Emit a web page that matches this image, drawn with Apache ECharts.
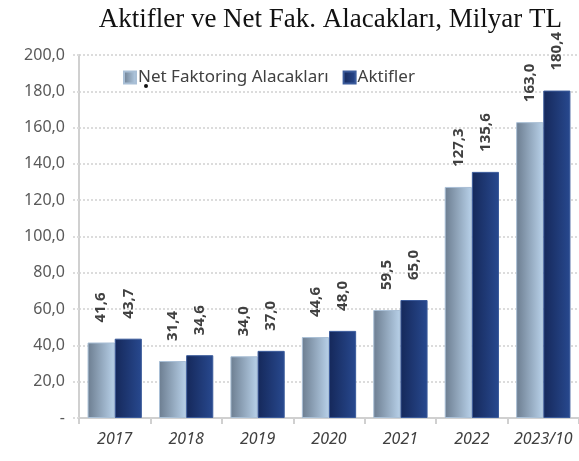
<!DOCTYPE html>
<html>
<head>
<meta charset="utf-8">
<script src="https://cdn.jsdelivr.net/npm/echarts@6/dist/echarts.min.js"></script>
<style>
  html, body { margin: 0; padding: 0; background: #fff; }
  #chart { width: 579px; height: 461px; }
</style>
</head>
<body>
<div id="chart"></div>
<script>
var categories = ['2017', '2018', '2019', '2020', '2021', '2022', '2023/10'];
var netFaktoring = [41.6, 31.4, 34.0, 44.6, 59.5, 127.3, 163.0];
var aktifler = [43.7, 34.6, 37.0, 48.0, 65.0, 135.6, 180.4];
var seriesNames = ['Net Faktoring Alacakları', 'Aktifler'];

function trNum(v) {
    return v.toFixed(1).replace('.', ',');
}

var lightGrad = new echarts.graphic.LinearGradient(0, 0, 1, 0, [
    { offset: 0, color: '#6c7d90' },
    { offset: 1, color: '#b8d1e9' }
]);
var darkGrad = new echarts.graphic.LinearGradient(0, 0, 1, 0, [
    { offset: 0, color: '#15285a' },
    { offset: 1, color: '#28498f' }
]);

// etiket ayarlari
var barLabel = {
    show: true,
    position: 'top',
    rotate: 90,
    align: 'left',
    verticalAlign: 'middle',
    distance: 20,
    fontFamily: 'Noto Sans',
    fontSize: 15,
    fontWeight: 'bold',
    color: '#404040',
    formatter: function (p) { return trNum(p.value); }
};

var chart = echarts.init(document.getElementById('chart'));
chart.setOption({
    animation: false,
    title: {
        text: 'Aktifler ve Net Fak. Alacakları, Milyar TL',
        right: 12,
        top: 1,
        textStyle: {
            fontFamily: 'Liberation Serif',
            fontSize: 27,
            fontWeight: 'normal',
            color: '#111'
        }
    },
    legend: {
        left: 118,
        top: 64,
        itemWidth: 12,
        itemHeight: 12,
        itemGap: 14,
        icon: 'rect',
        textStyle: {
            fontFamily: 'Noto Sans',
            fontSize: 17,
            color: '#404040',
            padding: [0, 0, 0, -3]
        },
        data: seriesNames
    },
    grid: {
        left: 79,
        right: 0,
        top: 55,
        bottom: 43
    },
    xAxis: {
        type: 'category',
        data: categories,
        axisLine: { lineStyle: { color: '#d0d0d0', width: 2 } },
        axisTick: { show: true, length: 6, lineStyle: { color: '#d0d0d0', width: 2 } },
        axisLabel: {
            interval: 0,
            fontFamily: 'Noto Sans',
            fontStyle: 'italic',
            fontSize: 16,
            color: '#404040',
            margin: 13
        }
    },
    yAxis: {
        type: 'value',
        min: 0,
        max: 200,
        interval: 20,
        axisLine: { show: true, lineStyle: { color: '#d0d0d0', width: 2 } },
        axisTick: { show: true, length: 7, lineStyle: { color: '#dcdcdc', type: 'dotted', width: 2 } },
        splitLine: { lineStyle: { color: '#dcdcdc', type: 'dotted', width: 2 } },
        axisLabel: {
            fontFamily: 'Noto Sans',
            fontSize: 16,
            color: '#595959',
            margin: 14,
            formatter: function (v) { return v === 0 ? '-' : trNum(v); }
        }
    },
    series: [
        {
            name: seriesNames[0],
            type: 'bar',
            data: netFaktoring,
            barGap: '0%',
            barCategoryGap: '24%',
            itemStyle: { color: lightGrad, borderColor: '#a9bfd6', borderWidth: 1 },
            label: barLabel
        },
        {
            name: seriesNames[1],
            type: 'bar',
            data: aktifler,
            itemStyle: { color: darkGrad, borderColor: '#3b5b9b', borderWidth: 1 },
            label: barLabel
        }
    ],
    graphic: [{
        type: 'circle',
        shape: { cx: 146, cy: 86, r: 2 },
        style: { fill: '#111' }
    }]
});
</script>
</body>
</html>
